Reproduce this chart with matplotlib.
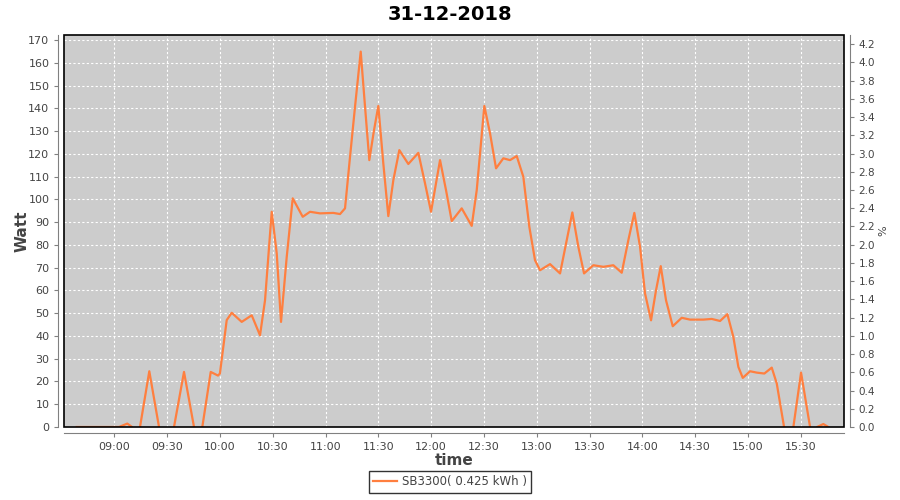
import matplotlib
matplotlib.use("Agg")
import matplotlib.pyplot as plt
import matplotlib.dates as mdates
import matplotlib.ticker as mticker
from matplotlib.patches import Rectangle
import pandas as pd

# data (spline-like curve traced at its turning points)
day = "2018-12-31"
times = [
    "08:38:40", "09:02:40", "09:07:23", "09:10:04", "09:12:20", "09:14:36",
    "09:19:53", "09:25:24", "09:29:40", "09:33:55", "09:39:36", "09:45:17",
    "09:47:33", "09:50:00", "09:54:47", "09:58:55", "10:00:00", "10:03:52",
    "10:06:43", "10:12:23", "10:18:04", "10:22:47", "10:25:38", "10:29:26",
    "10:32:17", "10:34:43", "10:37:58", "10:41:22", "10:47:03", "10:51:12",
    "10:56:53", "11:04:26", "11:08:15", "11:11:05", "11:13:56", "11:16:46",
    "11:20:00", "11:22:27", "11:24:53", "11:27:34", "11:30:00", "11:32:50",
    "11:35:41", "11:38:32", "11:41:56", "11:47:03", "11:52:44", "11:56:32",
    "11:59:57", "12:05:04", "12:08:28", "12:11:43", "12:17:23", "12:23:04",
    "12:25:55", "12:30:14", "12:33:28", "12:36:53", "12:41:02", "12:44:50",
    "12:48:38", "12:52:23", "12:55:48", "12:59:02", "13:01:53", "13:07:34",
    "13:13:15", "13:17:03", "13:20:14", "13:23:39", "13:26:53", "13:32:10",
    "13:37:51", "13:43:32", "13:48:18", "13:52:03", "13:55:28", "13:58:42",
    "14:01:32", "14:04:57", "14:07:47", "14:10:28", "14:13:28", "14:17:17",
    "14:22:23", "14:27:07", "14:34:40", "14:39:26", "14:44:10", "14:48:19",
    "14:51:43", "14:54:34", "14:57:04", "15:01:13", "15:05:01", "15:09:20",
    "15:13:32", "15:16:23", "15:20:32", "15:23:05", "15:25:49", "15:30:11",
    "15:35:18", "15:37:17", "15:39:17", "15:42:51", "15:45:42",
]
watts = [
    0, 0, 1.5, 0, -6, 0,
    24.5, 0, -8, 0, 24.2, 0,
    -5, 0, 24.2, 22.6, 23.5, 47,
    50.2, 46.2, 49.1, 40.3, 55.7, 94.6,
    76.3, 46.2, 74.8, 100.5, 92.4, 94.6,
    93.9, 94.1, 93.6, 96.1, 118.8, 140.8,
    165, 140.8, 117.3, 130.5, 141.1, 115.9,
    92.7, 108.5, 121.7, 115.6, 120.5, 107.1,
    94.6, 117.3, 104.1, 90.5, 96.1, 88.4,
    104.1, 141.1, 129.1, 113.7, 118.1, 117.3,
    119.1, 110, 88, 73.3, 68.9, 71.6,
    67.5, 82.1, 94.3, 79.2, 67.5, 71.1,
    70.4, 71.1, 67.8, 82.1, 94.1, 79.2,
    58.7, 46.9, 60.1, 70.7, 55.7, 44.3,
    48, 47.2, 47.2, 47.5, 46.6, 49.6,
    39.6, 26.4, 21.6, 24.5, 23.9, 23.5,
    26.1, 19.1, 0, -6, 0, 23.9,
    0, -4, 0, 1.3, 0,
]
tick_times = ["09:00", "09:30", "10:00", "10:30", "11:00", "11:30", "12:00",
              "12:30", "13:00", "13:30", "14:00", "14:30", "15:00", "15:30"]
series_label = "SB3300( 0.425 kWh )"
title = "31-12-2018"

x = pd.to_datetime([day + " " + t for t in times])
xt = pd.to_datetime([day + " " + t for t in tick_times])

fig = plt.figure(figsize=(9, 5), dpi=100)
ax = fig.add_axes([64 / 900, 73 / 500, 780 / 900, 392 / 500])
ax.set_facecolor("#cccccc")

ax.plot(x, watts, color="#ff7f3f", lw=1.6, zorder=3)

ax.set_xlim(pd.Timestamp(day + " 08:31:25"), pd.Timestamp(day + " 15:54:35"))
ax.set_ylim(0, 172.3)
ax.set_xticks(xt)
ax.xaxis.set_major_formatter(mdates.DateFormatter("%H:%M"))
ax.yaxis.set_major_locator(mticker.MultipleLocator(10))
ax.grid(True, color="white", linestyle=(0, (2, 2)), linewidth=0.8)
ax.set_axisbelow(True)

# JFreeChart style: grey axis lines set a few pixels away from the black plot frame
for side in ["top", "right"]:
    ax.spines[side].set_visible(False)
for side in ["left", "bottom"]:
    ax.spines[side].set_position(("outward", 4))
    ax.spines[side].set_color("#808080")
ax.tick_params(colors="#808080", labelcolor="#444444", labelsize=8, length=3)
ax.add_patch(Rectangle((0, 0), 1, 1, transform=ax.transAxes, fill=False,
                       edgecolor="black", lw=1.2, zorder=5, clip_on=False))

ax2 = ax.twinx()
ax2.set_ylim(0, 4.3)
ax2.yaxis.set_major_locator(mticker.MultipleLocator(0.2))
ax2.yaxis.set_major_formatter(mticker.FormatStrFormatter("%.1f"))
for side in ["top", "left", "bottom"]:
    ax2.spines[side].set_visible(False)
ax2.spines["right"].set_position(("outward", 4))
ax2.spines["right"].set_color("#808080")
ax2.tick_params(colors="#808080", labelcolor="#444444", labelsize=7.5, length=3)

ax.set_xlabel("time", fontsize=11, fontweight="bold", color="#444444", labelpad=1)
ax.set_ylabel("Watt", fontsize=11, fontweight="bold", color="#444444", labelpad=-1)
ax2.set_ylabel("%", fontsize=8, color="#444444", labelpad=2)

fig.suptitle(title, x=0.5, y=0.99, fontsize=14, fontweight="bold")

leg = fig.legend(handles=ax.get_lines(), labels=[series_label], loc="lower center",
                 bbox_to_anchor=(0.5, 0.002), fontsize=8.5, frameon=True, fancybox=False,
                 handlelength=2, borderpad=0.4, handletextpad=0.4)
leg.get_frame().set_edgecolor("black")
leg.get_frame().set_linewidth(1)
for t in leg.get_texts():
    t.set_color("#444444")

fig.savefig("out.png", dpi=100)
